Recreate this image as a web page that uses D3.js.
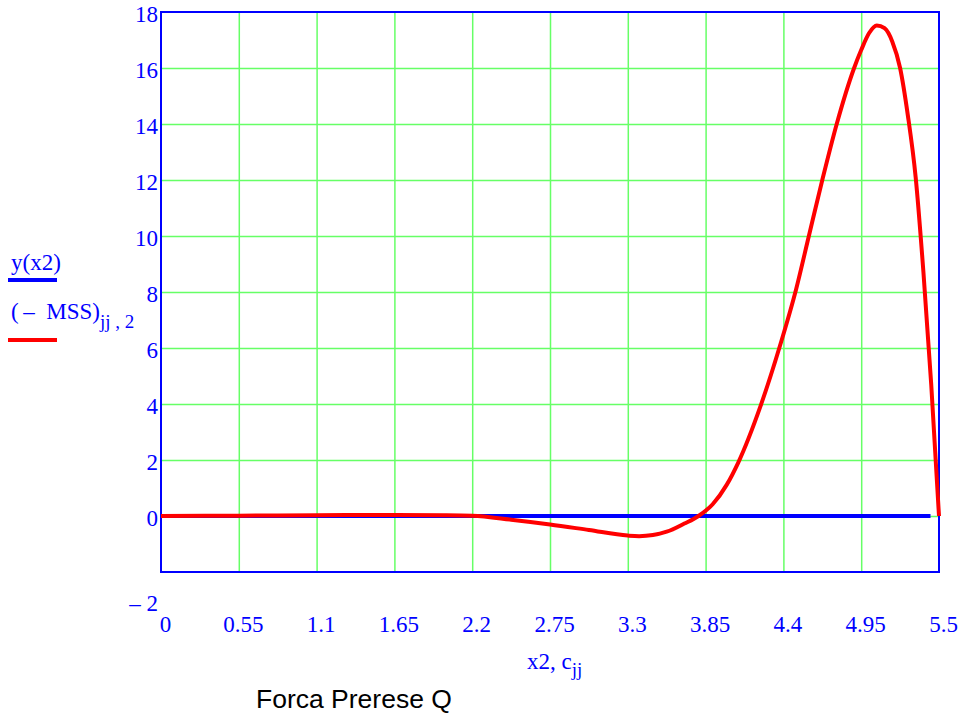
<!DOCTYPE html>
<html>
<head>
<meta charset="utf-8">
<script src="https://cdn.jsdelivr.net/npm/d3@7"></script>
<style>
  html, body { margin: 0; padding: 0; background: #fff; }
  svg { display: block; }
</style>
</head>
<body>
<svg id="chart" width="964" height="715"></svg>
<script>
// x-axis tick positions and their printed labels
const xTicks = [0, 0.55, 1.1, 1.65, 2.2, 2.75, 3.3, 3.85, 4.4, 4.95, 5.5];
const xTickLabels = ["0", "0.55", "1.1", "1.65", "2.2", "2.75", "3.3", "3.85", "4.4", "4.95", "5.5"];
// y-axis ticks
const yTicks = [-2, 0, 2, 4, 6, 8, 10, 12, 14, 16, 18];

// y(x2): the reference axis, flat at zero
const yX = [0, 5.44];
const yY = [0, 0];

// (-MSS) column 2 against c_jj
const mssX = [0, 0.55, 1.1, 1.65, 2.0, 2.2, 2.475, 2.75, 3.025, 3.3, 3.38, 3.575, 3.7, 3.8, 3.9, 4.0,
              4.08, 4.24, 4.38, 4.49, 4.58, 4.675, 4.777, 4.9, 4.95, 5.005, 5.06, 5.115, 5.17, 5.225,
              5.28, 5.335, 5.39, 5.445, 5.5];
const mssY = [0, 0.01, 0.03, 0.04, 0.03, 0.01, -0.13, -0.3, -0.5, -0.7, -0.72, -0.56, -0.27, 0, 0.42, 1.12,
              1.9, 3.95, 6.15, 8.1, 10, 12, 14, 16, 16.64, 17.24, 17.52, 17.42, 16.94, 16.0,
              14.3, 12.1, 8.7, 4.7, 0];

const svg = d3.select("#chart");
const m = { left: 161, right: 939, top: 12, bottom: 572 };

const x = d3.scaleLinear().domain([0, 5.5]).range([m.left, m.right]);
const y = d3.scaleLinear().domain([-2, 18]).range([m.bottom, m.top]);

const BLUE = "#0000ff", RED = "#ff0000", GRID = "#66ff66";
const SERIF = "'Liberation Serif', 'Times New Roman', serif";

// grid lines
svg.append("g")
  .attr("transform", `translate(0,${m.bottom})`)
  .call(d3.axisBottom(x).tickValues(xTicks.slice(1, -1)).tickSize(-(m.bottom - m.top)).tickFormat(""))
  .call(g => g.select(".domain").remove())
  .call(g => g.selectAll("line").attr("stroke", GRID).attr("stroke-width", 1.5));

svg.append("g")
  .attr("transform", `translate(${m.left},0)`)
  .call(d3.axisLeft(y).tickValues(yTicks.slice(1, -1)).tickSize(-(m.right - m.left)).tickFormat(""))
  .call(g => g.select(".domain").remove())
  .call(g => g.selectAll("line").attr("stroke", GRID).attr("stroke-width", 1.5));

// plot frame
svg.append("rect")
  .attr("x", m.left).attr("y", m.top)
  .attr("width", m.right - m.left).attr("height", m.bottom - m.top)
  .attr("fill", "none").attr("stroke", BLUE).attr("stroke-width", 2);

// y tick labels
const yAxis = svg.append("g")
  .attr("transform", `translate(${m.left},0)`)
  .call(d3.axisLeft(y).tickValues(yTicks).tickSize(0).tickPadding(3)
    .tickFormat(d => d < 0 ? "\u2013 " + Math.abs(d) : String(d)))
  .call(g => g.select(".domain").remove());
yAxis.selectAll("text")
  .attr("fill", BLUE)
  .style("font-family", SERIF).style("font-size", "23px")
  .attr("dy", "0.42em");
yAxis.selectAll(".tick").filter(d => d < 0).select("text")
  .attr("dy", "1.68em");

// x tick labels
const xAxis = svg.append("g")
  .attr("transform", `translate(0,${m.bottom})`)
  .call(d3.axisBottom(x).tickValues(xTicks).tickSize(0).tickPadding(60)
    .tickFormat((d, i) => xTickLabels[i]))
  .call(g => g.select(".domain").remove());
xAxis.selectAll("text")
  .attr("fill", BLUE)
  .style("font-family", SERIF).style("font-size", "23px")
  .attr("dx", 4).attr("dy", 0);

// series
const line = d3.line().x(d => x(d[0])).y(d => y(d[1]));

svg.append("path")
  .datum(d3.zip(yX, yY))
  .attr("fill", "none").attr("stroke", BLUE).attr("stroke-width", 4)
  .attr("d", line);

svg.append("path")
  .datum(d3.zip(mssX, mssY))
  .attr("fill", "none").attr("stroke", RED).attr("stroke-width", 4)
  .attr("stroke-linejoin", "round")
  .attr("d", line.curve(d3.curveMonotoneX));

// legend on the left
const leg = svg.append("g").attr("fill", BLUE)
  .style("font-family", SERIF).style("font-size", "23px");
leg.append("text").attr("x", 11).attr("y", 270).text("y(x2)");
leg.append("line").attr("x1", 8).attr("x2", 57).attr("y1", 280).attr("y2", 280)
  .attr("stroke", BLUE).attr("stroke-width", 4);
const t2 = leg.append("text").attr("x", 11).attr("y", 319);
t2.append("tspan").text("(\u2009\u2013\u2002MSS)");
t2.append("tspan").attr("dy", 9).style("font-size", "19px").text("jj , 2");
leg.append("line").attr("x1", 8).attr("x2", 57).attr("y1", 340).attr("y2", 340)
  .attr("stroke", RED).attr("stroke-width", 4);

// x axis title
const xt = svg.append("text").attr("x", 527).attr("y", 669)
  .attr("fill", BLUE).style("font-family", SERIF).style("font-size", "23px");
xt.append("tspan").text("x2, c");
xt.append("tspan").attr("dy", 7).style("font-size", "19px").text("jj");

// caption
svg.append("text").attr("x", 256).attr("y", 708)
  .style("font-family", "'Liberation Sans', Arial, sans-serif")
  .style("font-size", "26.5px").attr("fill", "#000")
  .text("Forca Prerese Q");
</script>
</body>
</html>
